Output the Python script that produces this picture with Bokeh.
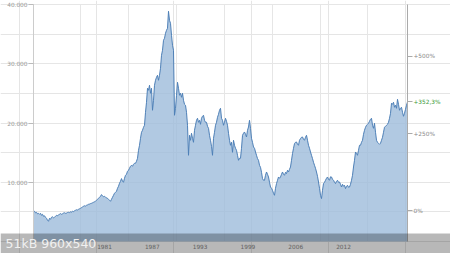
from bokeh.plotting import figure
from bokeh.models import (Range1d, LinearAxis, FixedTicker, CustomJSTickFormatter,
                          Label, BoxAnnotation, Grid)
from bokeh.embed import file_html
from bokeh.resources import INLINE

# ---- data (index level, regular sampling in fractional years) ----
START_YEAR = 1971.79
STEP_YEARS = 0.1297
values = [
    5207, 5098, 4845, 4929, 4676, 4760, 4591, 4760,
    4423, 4591, 4254, 4338, 4085, 3916, 3579, 3410, 3916, 3747,
    4085, 4169, 4001, 4085, 4254, 4423, 4338, 4507, 4591, 4710,
    4591, 4676, 4794, 4845, 4760, 4794, 4895, 4929, 4878, 5013,
    4963, 5098, 5047, 5182, 5267, 5351, 5317, 5435, 5520, 5604,
    5688, 5857, 5942, 6026, 5976, 6111, 6178, 6279, 6313, 6398,
    6448, 6533, 6617, 6701, 6786, 6955, 7123, 7292, 7461, 7630,
    7917, 7714, 7545, 7630, 7461, 7376, 7292, 7123, 6955, 6786,
    7123, 7461, 7799, 8136, 8305, 8474, 8980, 9318, 9824, 10162,
    10618, 10162, 9993, 10668, 11175, 11343, 11850, 12019, 12356, 12694,
    12863, 12694, 13031, 13200, 13200, 13538, 14044, 15395, 16239, 17420,
    18433, 18771, 19277, 19615, 21809, 23497, 25860, 25523, 26367, 25016,
    25860, 22147, 23835, 26367, 27211, 27717, 28055, 27211, 28055, 29236,
    31431, 32275, 33963, 34300, 35144, 35651, 35988, 38858, 37339, 36832,
    34807, 33119, 32275, 21303, 22484, 24679, 26873, 25860, 24679, 25016,
    24341, 25016, 23835, 23159, 22991, 21809, 19615, 14551, 17927, 17083,
    18264, 17420, 16745, 18771, 19615, 20458, 20796, 20121, 20458, 19783,
    20796, 21134, 21303, 20458, 20121, 20121, 19446, 19108, 17927, 17083,
    16070, 14551, 17420, 18433, 19615, 20121, 20965, 21471, 22147, 22484,
    20796, 20458, 19615, 20121, 20796, 20289, 19615, 18264, 17083, 16239,
    16745, 15057, 17083, 16239, 15732, 15395, 14551, 13707, 14044, 14044,
    15732, 17927, 18264, 18484, 18095, 17640, 18771, 19328, 20458, 19108,
    17420, 16745, 15952, 15732, 15108, 14551, 13994, 13707, 12863, 12525,
    11681, 10618, 10331, 10331, 11175, 11732, 11343, 10888, 9993, 9200,
    8980, 8643, 8136, 7799, 8980, 9774, 10331, 10888, 10668, 10888,
    11343, 11732, 11343, 11175, 11681, 11462, 12019, 11732, 12187, 12576,
    13707, 14838, 15732, 16526, 16745, 16796, 16407, 16239, 17083, 17370,
    17589, 17640, 17251, 17083, 17589, 17927, 17083, 16239, 15732, 15108,
    14551, 13994, 13369, 12863, 12356, 11732, 11006, 10044, 8980, 7799,
    7242, 8643, 9774, 9993, 10331, 10668, 10888, 10499, 10331, 10921,
    10888, 10499, 10331, 9993, 9774, 10162, 10331, 9993, 10044, 9655,
    9200, 9655, 9318, 9486, 8930, 9318, 9486, 9149, 9200, 9655,
    10331, 11175, 12576, 13707, 15108, 14888, 14551, 15395, 16239, 16239,
    16745, 17083, 18095, 18771, 19277, 19615, 19783, 19952, 20290, 20627,
    20796, 19615, 19108, 19952, 18433, 17083, 16745, 16576, 16407, 16576,
    17083, 17589, 18433, 19277, 19446, 19615, 19783, 20121, 20796, 21640,
    23328, 23159, 23497, 22653, 22991, 22484, 24003, 23159, 22147, 22484,
    22653, 21809, 21134, 21640, 22316, 22991, 23550,
]
years = [round(START_YEAR + i * STEP_YEARS, 4) for i in range(len(values))]

y_ticks = [10000, 20000, 30000, 40000]
y_tick_labels = ["10.000", "20.000", "30.000", "40.000"]
y_max = 40000
x_label_pos = [1981.0, 1987.2, 1993.4, 1999.6, 2005.8, 2012.0]
x_labels = ["1981", "1987", "1993", "1999", "2006", "2012"]
x_grid_pos = [1977.95, 1984.15, 1990.35, 1996.55, 2002.75, 2008.95, 2015.15]
pct_ticks = [0, 250, 500]
watermark_text = "51kB 960x540"

base = values[0]
change = (values[-1] / base - 1) * 100
change_text = ("+%.1f%%" % change).replace(".", ",")

# ---- layout: the frame fills the canvas; axes sit at fixed locations ----
W, H = 450, 253
PL, PR, PT, PB = 33, 407, 4, 241          # plot box in canvas pixels
kx = (PR - PL) / (years[-1] - years[0])   # px per year
ky = (PB - PT) / y_max                    # px per index point
x0 = years[0] - PL / kx
x1 = years[-1] + (W - PR) / kx
y0 = -(H - PB) / ky
y1 = y_max + PT / ky

FONT = "DejaVu Sans"
FS = "5.8px"

p = figure(width=W, height=H, output_backend="svg", toolbar_location=None,
           x_range=Range1d(x0, x1), y_range=Range1d(y0, y1),
           min_border=0, min_border_left=0, min_border_right=0,
           min_border_top=0, min_border_bottom=0,
           x_axis_location=None, y_axis_location=None)
p.outline_line_color = None
p.background_fill_color = "white"
p.border_fill_color = "white"
p.title.visible = False

p.varea(x=years, y1=0, y2=values, fill_color="#9dbcdb", fill_alpha=0.8)
p.line(x=years, y=values, line_color="#4e80b7", line_width=1)

# left axis
ya = LinearAxis(fixed_location=years[0], bounds=(0, y_max),
                ticker=FixedTicker(ticks=y_ticks))
ya.major_label_overrides = dict(zip(y_ticks, y_tick_labels))
ya.minor_tick_line_color = None
ya.major_tick_in = 0
ya.major_tick_out = 5
ya.major_tick_line_color = "#bbbbbb"
ya.axis_line_color = "#cccccc"
ya.major_label_standoff = 1
ya.major_label_text_font = FONT
ya.major_label_text_font_size = FS
ya.major_label_text_color = "#999999"
p.add_layout(ya, "left")

# bottom axis
xa = LinearAxis(fixed_location=0, ticker=FixedTicker(ticks=x_label_pos))
xa.major_label_overrides = dict(zip(x_label_pos, x_labels))
xa.minor_tick_line_color = None
xa.major_tick_line_color = None
xa.major_tick_in = 0
xa.major_tick_out = 0
xa.axis_line_color = None
xa.major_label_standoff = 2
xa.major_label_text_font = FONT
xa.major_label_text_font_size = FS
xa.major_label_text_color = "#888888"
p.add_layout(xa, "below")

# right percentage axis
pct_lo = (y0 / base - 1) * 100
pct_hi = (y1 / base - 1) * 100
p.extra_y_ranges = {"pct": Range1d(pct_lo, pct_hi)}
ra = LinearAxis(y_range_name="pct", fixed_location=years[-1],
                bounds=(-100, (y_max / base - 1) * 100),
                ticker=FixedTicker(ticks=pct_ticks + [round(change, 1)]))
ra.formatter = CustomJSTickFormatter(code="""
    if (Math.abs(tick - %f) < 0.01) { return ""; }
    if (tick == 0) { return "0%%"; }
    return "+" + tick.toFixed(0) + "%%";
""" % round(change, 1))
ra.minor_tick_line_color = None
ra.major_tick_in = 0
ra.major_tick_out = 5
ra.major_tick_line_color = "#aaaaaa"
ra.axis_line_color = "#aaaaaa"
ra.major_label_standoff = 1
ra.major_label_text_font = FONT
ra.major_label_text_font_size = FS
ra.major_label_text_color = "#888888"
p.add_layout(ra, "right")

# grids
xg = Grid(dimension=0, ticker=FixedTicker(ticks=x_grid_pos),
          grid_line_color="#e6e6e6")
yg = Grid(dimension=1, ticker=FixedTicker(ticks=y_ticks),
          grid_line_color="#e6e6e6")
if "cross_bounds" in Grid.properties():
    xg.cross_bounds = (0, y_max)
    yg.cross_bounds = (years[0], years[-1])
    p.add_layout(xg)
    p.add_layout(yg)
else:
    p.segment(x0=x_grid_pos, x1=x_grid_pos, y0=[0] * len(x_grid_pos),
              y1=[y_max] * len(x_grid_pos), line_color="#e6e6e6", level="underlay")
    p.segment(x0=[years[0]] * len(y_ticks), x1=[years[-1]] * len(y_ticks),
              y0=y_ticks, y1=y_ticks, line_color="#e6e6e6", level="underlay")

p.add_layout(Label(x=years[-1] + 6 / kx, y=round(change, 1),
                   y_range_name="pct", text=change_text,
                   text_font=FONT, text_font_size=FS, text_color="#3a9a3a",
                   text_align="left", text_baseline="middle"))

# thumbnail overlay band (bottom 20 px of the picture)
band_top = y_max - (233 - PT) / ky
p.add_layout(BoxAnnotation(top=band_top, fill_color="black", fill_alpha=0.28,
                           line_color=None))
p.add_layout(Label(x=x0 + 5 / kx, y=y_max - (243 - PT) / ky,
                   text=watermark_text, text_font=FONT, text_font_size="12.5px",
                   text_color="#f0f0f0", text_align="left",
                   text_baseline="middle"))

open("out.html", "w").write(file_html(p, INLINE))
